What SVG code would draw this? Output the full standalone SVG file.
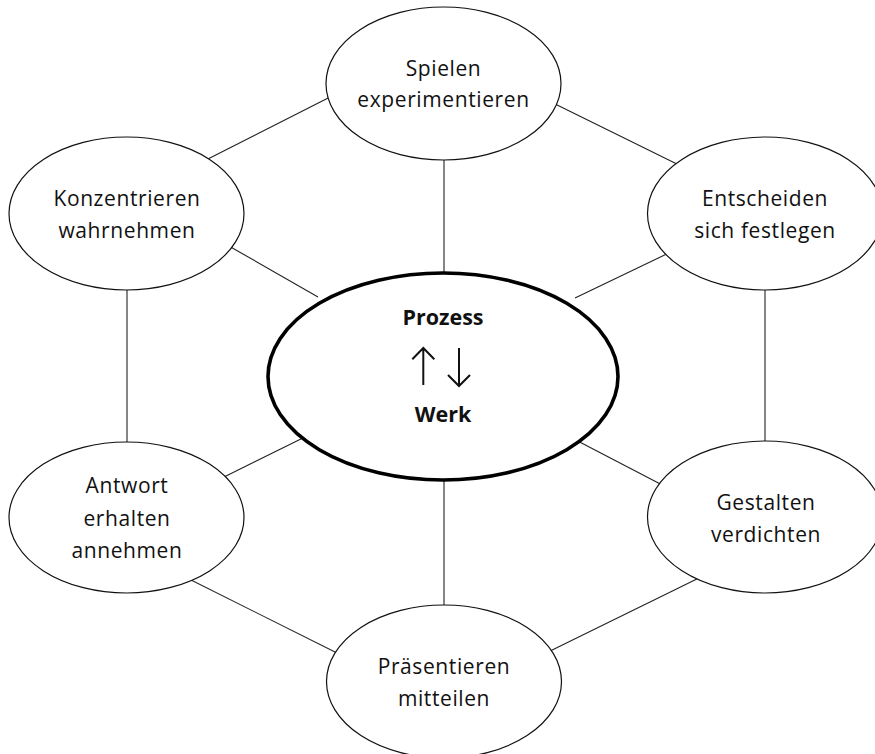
<svg xmlns="http://www.w3.org/2000/svg" width="875" height="754" viewBox="0 0 875 754">
  <style>
    .edge { stroke: #222; stroke-width: 1.1; fill: none; }
    .node { fill: #fff; stroke: #111; stroke-width: 1.2; }
    .core { fill: #fff; stroke: #000; stroke-width: 3.6; }
    .lbl { font-family: "Open Sans", "Noto Sans", sans-serif; font-size: 21px; letter-spacing: 0.6px; fill: #111; text-anchor: middle; }
    .bold { font-family: "Open Sans", "Noto Sans", sans-serif; font-size: 21.5px; font-weight: bold; fill: #111; text-anchor: middle; }
    .arrow { stroke: #111; stroke-width: 2; fill: none; stroke-linecap: butt; stroke-linejoin: miter; }
  </style>
  <rect width="875" height="754" fill="#fff"/>

  <g id="connectors">
    <line class="edge" x1="444" y1="150" x2="444" y2="290"/>
    <line class="edge" x1="444" y1="470" x2="444" y2="620"/>
    <line class="edge" x1="127" y1="280" x2="127" y2="452"/>
    <line class="edge" x1="765" y1="280" x2="765" y2="452"/>
    <line class="edge" x1="200" y1="163" x2="338" y2="93"/>
    <line class="edge" x1="547" y1="100" x2="685" y2="168"/>
    <line class="edge" x1="222" y1="242" x2="318" y2="297"/>
    <line class="edge" x1="575" y1="298" x2="675" y2="250"/>
    <line class="edge" x1="218" y1="480" x2="313" y2="433"/>
    <line class="edge" x1="570" y1="437" x2="668" y2="488"/>
    <line class="edge" x1="183" y1="576" x2="345" y2="657"/>
    <line class="edge" x1="542" y1="655" x2="705" y2="575"/>
  </g>

  <g id="node-spielen">
    <ellipse class="node" cx="443.5" cy="83.5" rx="117.5" ry="76.5"/>
    <text class="lbl" x="443.5" y="76">Spielen</text>
    <text class="lbl" x="443.5" y="107">experimentieren</text>
  </g>

  <g id="node-konzentrieren">
    <ellipse class="node" cx="126.5" cy="213.5" rx="117.5" ry="76.5"/>
    <text class="lbl" x="127" y="206">Konzentrieren</text>
    <text class="lbl" x="127" y="238">wahrnehmen</text>
  </g>

  <g id="node-entscheiden">
    <ellipse class="node" cx="765" cy="213.5" rx="117.5" ry="76.5"/>
    <text class="lbl" x="765" y="206">Entscheiden</text>
    <text class="lbl" x="765" y="238">sich festlegen</text>
  </g>

  <g id="node-antwort">
    <ellipse class="node" cx="126.5" cy="517.5" rx="117.5" ry="75.5"/>
    <text class="lbl" x="127" y="493">Antwort</text>
    <text class="lbl" x="127" y="526">erhalten</text>
    <text class="lbl" x="127" y="558">annehmen</text>
  </g>

  <g id="node-gestalten">
    <ellipse class="node" cx="765" cy="517" rx="117.5" ry="76"/>
    <text class="lbl" x="766" y="510">Gestalten</text>
    <text class="lbl" x="766" y="542">verdichten</text>
  </g>

  <g id="node-praesentieren">
    <ellipse class="node" cx="444" cy="681.5" rx="117.5" ry="76.5"/>
    <text class="lbl" x="444" y="674">Präsentieren</text>
    <text class="lbl" x="444" y="706">mitteilen</text>
  </g>

  <g id="node-center">
    <ellipse class="core" cx="443" cy="376.5" rx="175" ry="103.5"/>
    <text class="bold" x="443" y="325">Prozess</text>
    <!-- up and down arrows between the two labels -->
    <path class="arrow" d="M423.3 385 V348.5 M412.3 359.3 L423.3 348 L434.3 359.3"/>
    <path class="arrow" d="M459 348 V384.5 M448 375 L459 386 L470 375"/>
    <text class="bold" x="443" y="422">Werk</text>
  </g>
</svg>
